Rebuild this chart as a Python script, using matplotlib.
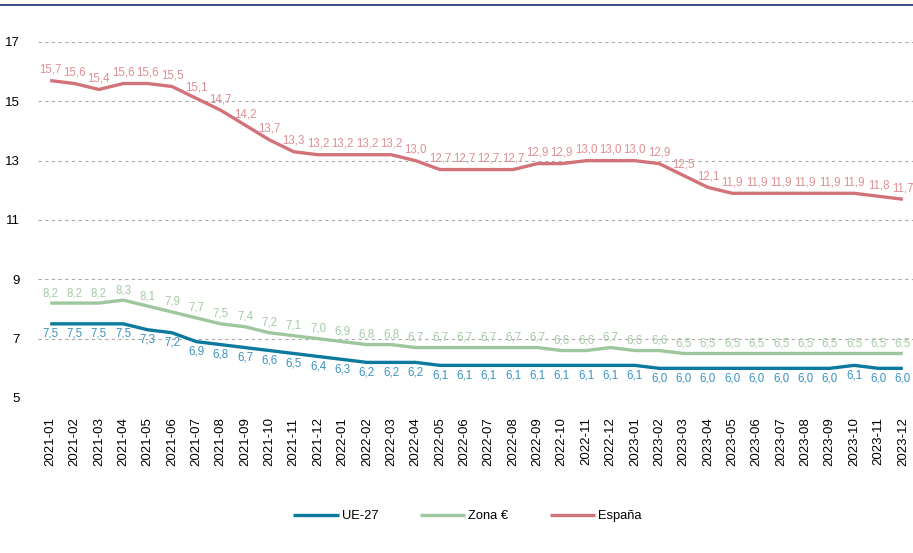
import matplotlib.pyplot as plt
from matplotlib.lines import Line2D

plt.rcParams['font.family'] = ['Liberation Sans', 'DejaVu Sans']

# meses 2021-01 .. 2023-12
meses = [f'{a}-{m:02d}' for a in (2021, 2022, 2023) for m in range(1, 13)]

ue27 = [7.5, 7.5, 7.5, 7.5, 7.3, 7.2, 6.9, 6.8, 6.7, 6.6, 6.5, 6.4,
        6.3, 6.2, 6.2, 6.2, 6.1, 6.1, 6.1, 6.1, 6.1, 6.1, 6.1, 6.1,
        6.1, 6.0, 6.0, 6.0, 6.0, 6.0, 6.0, 6.0, 6.0, 6.1, 6.0, 6.0]
zona_euro = [8.2, 8.2, 8.2, 8.3, 8.1, 7.9, 7.7, 7.5, 7.4, 7.2, 7.1, 7.0,
             6.9, 6.8, 6.8, 6.7, 6.7, 6.7, 6.7, 6.7, 6.7, 6.6, 6.6, 6.7,
             6.6, 6.6, 6.5, 6.5, 6.5, 6.5, 6.5, 6.5, 6.5, 6.5, 6.5, 6.5]
espana = [15.7, 15.6, 15.4, 15.6, 15.6, 15.5, 15.1, 14.7, 14.2, 13.7, 13.3, 13.2,
          13.2, 13.2, 13.2, 13.0, 12.7, 12.7, 12.7, 12.7, 12.9, 12.9, 13.0, 13.0,
          13.0, 12.9, 12.5, 12.1, 11.9, 11.9, 11.9, 11.9, 11.9, 11.9, 11.8, 11.7]

series = [
    ('UE-27', ue27, '#0b7a9e', '#3a93c0', -10),
    ('Zona €', zona_euro, '#9ec79e', '#a5cba5', 10),
    ('España', espana, '#d2737a', '#de8f93', 11),
]

fig = plt.figure(figsize=(9.13, 5.53), dpi=100)
ax = fig.add_axes([38 / 913, 1 - 398 / 553, 877 / 913, 356 / 553])

x = list(range(len(meses)))
for nombre, vals, col, col_txt, dy in series:
    ax.plot(x, vals, color=col, lw=2.4, label=nombre, solid_capstyle='butt', zorder=3)
    for xi, v in zip(x, vals):
        ax.annotate(f'{v:.1f}'.replace('.', ','), (xi, v), xytext=(0, dy),
                    textcoords='offset pixels',
                    ha='center', va='center', fontsize=8.3, color=col_txt, zorder=4)

ax.set_xlim(-0.5, len(meses) - 0.5)
ax.set_ylim(5, 17)
ax.set_yticks(range(5, 18, 2))
ax.set_xticks(x)
ax.set_xticklabels(meses, rotation=90, fontsize=9.5)
ax.tick_params(axis='y', labelsize=9.5, length=0, pad=13)
ax.tick_params(axis='x', length=0, pad=14)
ax.grid(axis='y', color='#aaaaaa', lw=0.8, ls=(0, (3, 3)))
ax.set_axisbelow(True)
for s in ax.spines.values():
    s.set_visible(False)

# linea superior
fig.add_artist(Line2D([0, 1], [1 - 5 / 553, 1 - 5 / 553], color='#2c3e7a', lw=1.3))

fig.legend(loc='center', bbox_to_anchor=(0.512, 1 - 516 / 553), ncol=3, frameon=False,
           fontsize=9.3, handlelength=3.5, columnspacing=3.2, handletextpad=0.25)

fig.savefig('out.png', dpi=100)
